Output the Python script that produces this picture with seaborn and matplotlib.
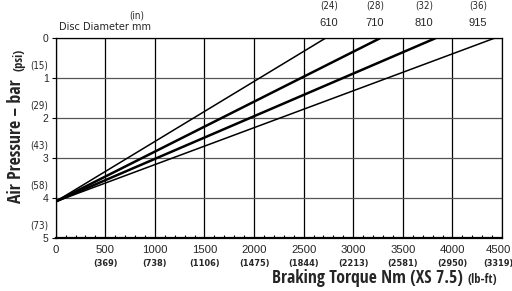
import pandas as pd
import seaborn as sns
import matplotlib.pyplot as plt
import matplotlib.transforms as mtransforms

# chart data
disc_mm = ["610", "710", "810", "915"]
disc_in = ["(24)", "(28)", "(32)", "(36)"]
torque_at_zero_bar = [2718, 3269, 3827, 4421]   # Nm where each line reaches 0 bar
start_pressure = 4.08                            # bar at 0 Nm (all lines)
line_widths = [1.1, 1.8, 1.8, 1.1]
label_x = [2755, 3219, 3713, 4258]               # where the disc labels sit (Nm)

torque_ticks = [0, 500, 1000, 1500, 2000, 2500, 3000, 3500, 4000, 4500]
lbft_labels = ["", "(369)", "(738)", "(1106)", "(1475)", "(1844)", "(2213)", "(2581)", "(2950)", "(3319)"]
bar_ticks = [0, 1, 2, 3, 4, 5]
psi_labels = ["", "(15)", "(29)", "(43)", "(58)", "(73)"]

rows = []
for mm, t in zip(disc_mm, torque_at_zero_bar):
    rows.append({"disc": mm, "torque": 0, "bar": start_pressure})
    rows.append({"disc": mm, "torque": t, "bar": 0})
df = pd.DataFrame(rows)

sns.set_theme(style="white")
plt.rcParams['font.family'] = ['Liberation Sans', 'DejaVu Sans']
COND = dict(family='DejaVu Sans', fontstretch='condensed')
TITLE = dict(family='Open Sans Condensed', fontweight='bold')

fig = plt.figure(figsize=(5.12, 2.91), dpi=100)
ax = fig.add_axes([0.1088, 0.181, 0.8717, 0.6874])

for (mm, lw) in zip(disc_mm, line_widths):
    sns.lineplot(data=df[df.disc == mm], x="torque", y="bar", color="black",
                 linewidth=lw, ax=ax, legend=False)

ax.set_xlim(0, 4500)
ax.set_ylim(5, 0)
ax.set_xticks(torque_ticks)
ax.set_xticks(range(0, 4501, 100), minor=True)
ax.set_yticks(bar_ticks)
ax.set_xticklabels([str(t) for t in torque_ticks], fontsize=8.2)
ax.set_yticklabels([str(b) for b in bar_ticks], fontsize=7.5)
ax.grid(axis='x', which='major', color='black', linewidth=0.9)
ax.grid(axis='y', which='major', color='#555555', linewidth=0.9)
ax.tick_params(axis='x', which='major', direction='inout', length=4, width=0.9, pad=3, color='black')
ax.tick_params(axis='x', which='minor', direction='in', length=2.5, width=0.8, color='black', bottom=True)
ax.tick_params(axis='y', which='major', direction='out', length=3, width=0.8, pad=2, color='black', left=True)
for side in ["top", "right", "left"]:
    ax.spines[side].set_linewidth(0.9)
    ax.spines[side].set_color("black")
ax.spines["bottom"].set_linewidth(1.6)
ax.spines["bottom"].set_color("black")
ax.set_xlabel("")
ax.set_ylabel("")

# nudge the last Nm label left so it stays inside the image
shift_left = mtransforms.ScaledTranslation(-4 / 100, 0, fig.dpi_scale_trans)
last_lab = ax.get_xticklabels()[-1]
last_lab.set_transform(last_lab.get_transform() + shift_left)

# lb-ft labels under the Nm tick labels
tr_x = mtransforms.blended_transform_factory(ax.transData, ax.transAxes)
for i, (t, lab) in enumerate(zip(torque_ticks, lbft_labels)):
    trans = tr_x + shift_left if i == len(torque_ticks) - 1 else tr_x
    ax.text(t, -0.125, lab, transform=trans, ha='center', va='center',
            fontsize=6.6, fontweight='bold', **COND)

# psi labels above the bar tick labels
tr_y = mtransforms.blended_transform_factory(ax.transAxes, ax.transData)
for b, lab in zip(bar_ticks, psi_labels):
    ax.text(-0.017, b - 0.33, lab, transform=tr_y, ha='right', va='center',
            fontsize=7, **COND)

# disc diameter labels on top
for x, mm, inch in zip(label_x, disc_mm, disc_in):
    ax.text(x, 1.075, mm, transform=tr_x, ha='center', va='center', fontsize=8)
    ax.text(x, 1.165, inch, transform=tr_x, ha='center', va='center', fontsize=7, **COND)
fig.text(59 / 512, 1 - 27 / 291, "Disc Diameter mm", ha='left', va='center', fontsize=7.8, **COND)
fig.text(137 / 512, 1 - 15 / 291, "(in)", ha='center', va='center', fontsize=7, **COND)

# axis titles
fig.text(463 / 512, 1 - 283 / 291, "Braking Torque Nm (XS 7.5)", ha='right', va='baseline',
         fontsize=12.7, **TITLE)
fig.text(467 / 512, 1 - 283 / 291, "(lb-ft)", ha='left', va='baseline',
         fontsize=9, **TITLE)
fig.text(25 / 512, 1 - 203 / 291, "Air Pressure \u2013 bar", ha='left', va='bottom', rotation=90,
         rotation_mode='anchor', fontsize=12.8, **TITLE)
fig.text(25 / 512, 1 - 71 / 291, "(psi)", ha='left', va='bottom', rotation=90,
         rotation_mode='anchor', fontsize=9, **TITLE)

plt.savefig("out.png", dpi=100, facecolor="white")
